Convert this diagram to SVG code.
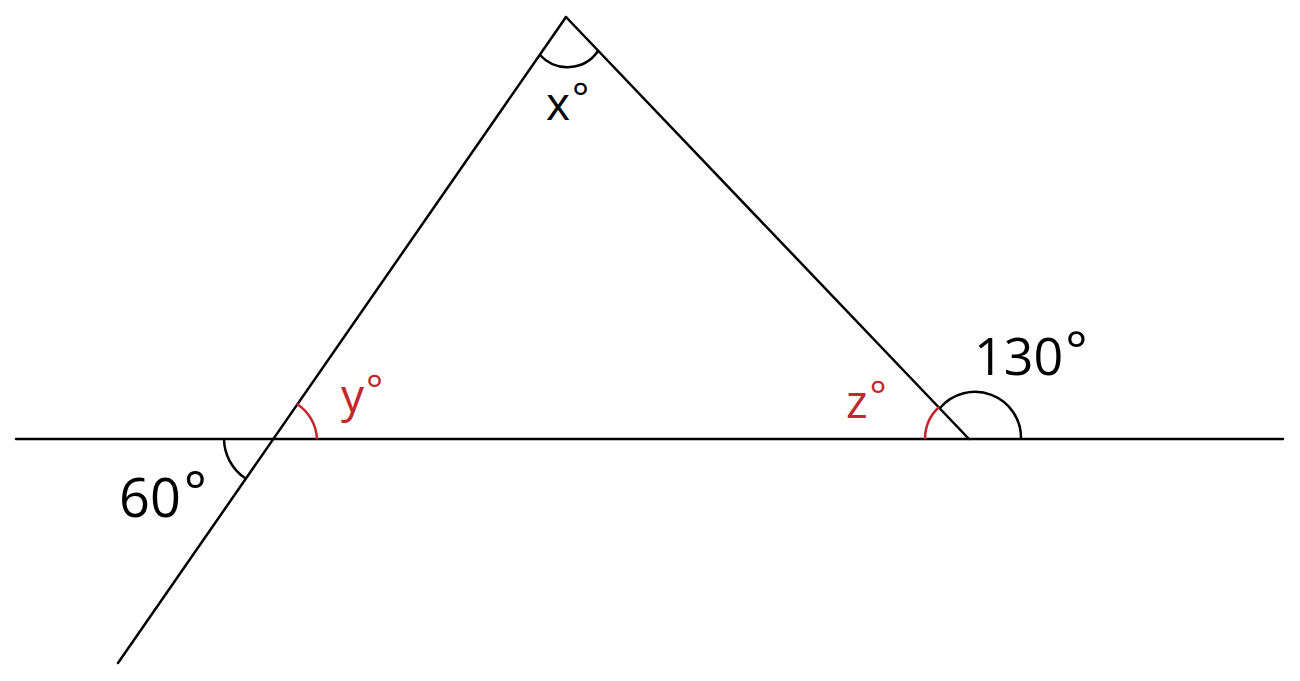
<svg xmlns="http://www.w3.org/2000/svg" width="1300" height="681" viewBox="0 0 1300 681">
<style>
.ln{stroke:#000;stroke-width:2.5;fill:none;stroke-linecap:round}
.arc{stroke:#000;stroke-width:2.5;fill:none}
.red{stroke:#c1272d}
.t{font-family:"Open Sans","Liberation Sans",sans-serif;fill:#000}
.tr{fill:#c1272d}
</style>
<rect width="1300" height="681" fill="#fff"/>
<g id="connectors">
<line class="ln" x1="16" y1="439" x2="1283" y2="439"/>
<line class="ln" x1="118" y1="663" x2="566" y2="17"/>
<line class="ln" x1="566" y1="17" x2="969" y2="439"/>
</g>
<g id="angle-x">
<path class="arc" d="M540 55 A37 37 0 0 0 598 51"/>
<text class="t" x="546" y="120" font-size="46">x<tspan font-size="40" dx="2" dy="-8">°</tspan></text>
</g>
<g id="angle-60">
<path class="arc" d="M224 439 A48 48 0 0 0 245 478"/>
<text class="t" x="119" y="517" font-size="54">60<tspan dx="3" dy="-6">°</tspan></text>
</g>
<g id="angle-y">
<path class="arc red" d="M297 404 A44 44 0 0 1 317 439"/>
<text class="t tr" x="341" y="412" font-size="46">y<tspan font-size="40" dx="2" dy="-8">°</tspan></text>
</g>
<g id="angle-z">
<path class="arc red" d="M925 439 A44 44 0 0 1 939 407"/>
<text class="t tr" x="846" y="418" font-size="46">z<tspan font-size="40" dx="2" dy="-8">°</tspan></text>
</g>
<g id="angle-130">
<path class="arc" d="M940 408 A46 46 0 0 1 1021 439"/>
<text class="t" x="974" y="375" font-size="52">130<tspan dx="2" dy="-6">°</tspan></text>
</g>
</svg>
